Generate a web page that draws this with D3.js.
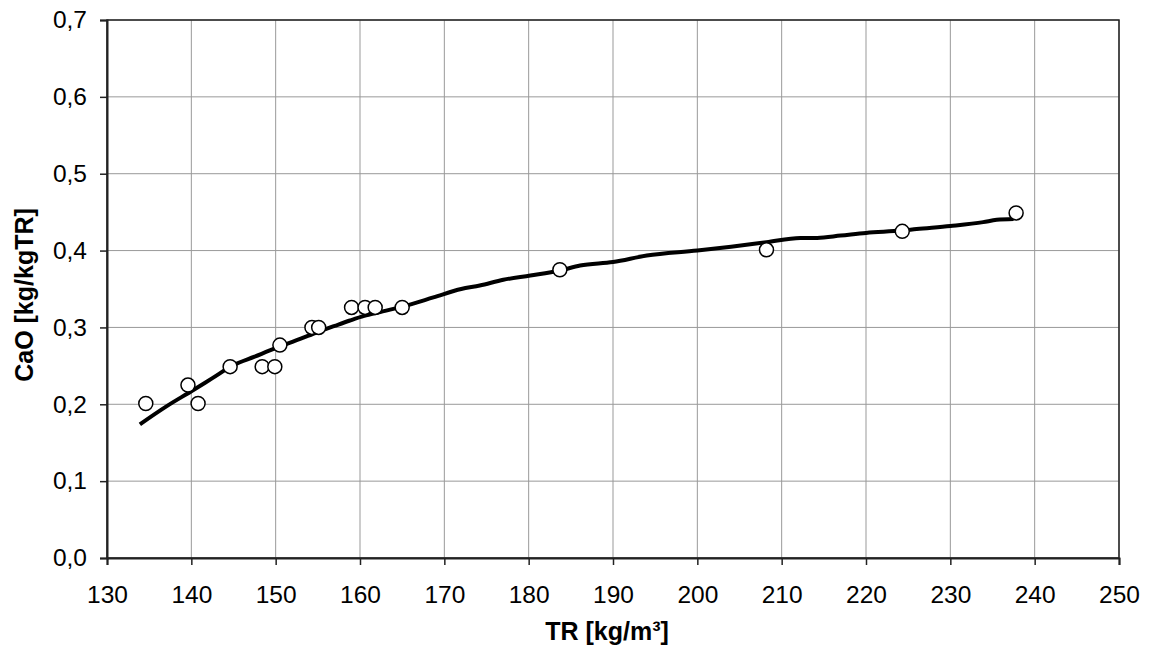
<!DOCTYPE html>
<html>
<head>
<meta charset="utf-8">
<script src="https://cdn.jsdelivr.net/npm/d3@7"></script>
<style>
  body { margin: 0; background: #fff; }
  svg text { font-family: "Liberation Sans", Arial, sans-serif; }
</style>
</head>
<body>
<svg id="chart" width="1149" height="648"></svg>
<script>
// measured points
const tr = [134.6, 139.6, 140.8, 144.6, 148.4, 149.9, 150.5, 154.3, 155.1, 159.0, 160.6, 161.8, 165.0, 183.7, 208.2, 224.3, 237.8];
const cao = [0.201, 0.225, 0.201, 0.249, 0.249, 0.249, 0.277, 0.300, 0.300, 0.326, 0.326, 0.326, 0.326, 0.375, 0.401, 0.425, 0.449];

// trend line
const lineX = [133.9, 137, 140, 142.5, 145, 147.5, 150, 152.9, 155, 157, 158.8, 160.5, 162.4, 165, 168.7, 172, 174.2, 177, 180.2, 183.7, 186.1, 190, 194, 200, 204, 208.2, 212.2, 214.2, 217, 220, 224.2, 226, 230, 233.9, 235.5, 237.5];
const lineY = [0.174, 0.197, 0.217, 0.234, 0.251, 0.262, 0.273, 0.285, 0.294, 0.302, 0.309, 0.315, 0.320, 0.327, 0.339, 0.350, 0.3545, 0.362, 0.3675, 0.374, 0.3805, 0.385, 0.3935, 0.400, 0.405, 0.411, 0.4165, 0.4165, 0.4195, 0.423, 0.426, 0.428, 0.432, 0.437, 0.440, 0.441];

const xTicks = d3.range(130, 251, 10);
const yTicks = [0, 0.1, 0.2, 0.3, 0.4, 0.5, 0.6, 0.7];

const margin = {left: 107, top: 20, right: 30, bottom: 90};
const W = 1149, H = 648;
const svg = d3.select("#chart");

const x = d3.scaleLinear().domain([130, 250]).range([margin.left, W - margin.right]);
const y = d3.scaleLinear().domain([0, 0.7]).range([H - margin.bottom, margin.top]);

// grid
svg.append("g").selectAll("line").data(xTicks).join("line")
    .attr("x1", d => x(d)).attr("x2", d => x(d))
    .attr("y1", y(0)).attr("y2", y(0.7))
    .attr("stroke", "#999").attr("stroke-width", 1);
svg.append("g").selectAll("line").data(yTicks).join("line")
    .attr("x1", x(130)).attr("x2", x(250))
    .attr("y1", d => y(d)).attr("y2", d => y(d))
    .attr("stroke", "#999").attr("stroke-width", 1);

// frame
svg.append("rect")
    .attr("x", x(130)).attr("y", y(0.7))
    .attr("width", x(250) - x(130)).attr("height", y(0) - y(0.7))
    .attr("fill", "none").attr("stroke", "#222").attr("stroke-width", 1.5);

const fmt = d => d3.format(".1f")(d).replace(".", ",");

const xAxis = svg.append("g")
    .attr("transform", `translate(0,${y(0)})`)
    .call(d3.axisBottom(x).tickValues(xTicks).tickSize(7).tickPadding(21).tickFormat(d3.format("d")));
const yAxis = svg.append("g")
    .attr("transform", `translate(${x(130)},0)`)
    .call(d3.axisLeft(y).tickValues(yTicks).tickSize(7).tickPadding(13).tickFormat(fmt));

[xAxis, yAxis].forEach(a => {
    a.select(".domain").attr("stroke", "#222").attr("stroke-width", 2);
    a.selectAll(".tick line").attr("stroke", "#222").attr("stroke-width", 1.5);
    a.selectAll(".tick text").attr("font-size", 24.5).attr("fill", "#000")
        .style("font-family", "'Liberation Sans', Arial, sans-serif");
});

// trend line
const lineData = lineX.map((d, i) => [d, lineY[i]]);
svg.append("path")
    .datum(lineData)
    .attr("fill", "none")
    .attr("stroke", "#000")
    .attr("stroke-width", 4)
    .attr("stroke-linejoin", "round")
    .attr("d", d3.line().x(d => x(d[0])).y(d => y(d[1])).curve(d3.curveMonotoneX));

// points
svg.append("g").selectAll("circle").data(tr).join("circle")
    .attr("cx", d => x(d))
    .attr("cy", (d, i) => y(cao[i]))
    .attr("r", 7)
    .attr("fill", "#fff")
    .attr("stroke", "#000")
    .attr("stroke-width", 1.5);

// axis titles
svg.append("text")
    .attr("x", 607)
    .attr("y", 640)
    .attr("text-anchor", "middle")
    .attr("font-size", 25)
    .attr("font-weight", "bold")
    .text("TR [kg/m³]");

svg.append("text")
    .attr("transform", `translate(33,295) rotate(-90)`)
    .attr("text-anchor", "middle")
    .attr("font-size", 25)
    .attr("font-weight", "bold")
    .text("CaO [kg/kgTR]");
</script>
</body>
</html>
